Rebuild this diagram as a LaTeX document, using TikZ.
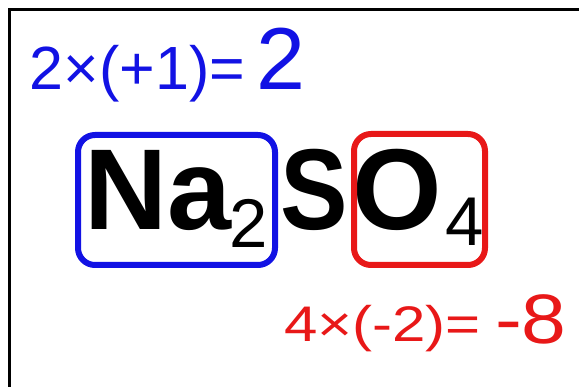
\documentclass[tikz,border=0pt]{standalone}
\usepackage{fontspec}
\setmainfont{Liberation Sans}
\usetikzlibrary{positioning}
\definecolor{chargeblue}{RGB}{18,18,228}
\definecolor{chargered}{RGB}{232,24,24}

\begin{document}
\begin{tikzpicture}[x=1pt, y=-1pt]
    \tikzstyle{txt}     = [anchor=base west, inner sep=0pt, outer sep=0pt]
    \tikzstyle{formula} = [txt, font=\fontsize{115}{115}\selectfont\bfseries]
    \tikzstyle{index}   = [txt, font=\fontsize{69}{69}\selectfont]
    \tikzstyle{ionbox}  = [draw, rounded corners=17pt, line width=6pt, inner sep=0pt]

    \useasboundingbox (0,0) rectangle (579,387);

    % Frame
    \draw [line width=3pt] (9.5,387) -- (9.5,10) -- (579,10);

    % Sodium charge
    \node [txt, text=chargeblue, font=\fontsize{61}{61}\selectfont] (eqna) at (30,90) {2×(+1)=};
    \node [txt, text=chargeblue, font=\fontsize{88}{88}\selectfont] (sumna) at (256.5,90) {2};

    % Main formula
    \node [formula] (na) at (84,230) {Na};
    \node [index] (nasub) at (229,248) {2};
    \node [formula, xscale=0.88] (s) at (280,230) {S};
    \node [formula] (o) at (352,230) {O};
    \node [index] (osub) at (445,246) {4};

    % Grouping boxes
    \node [ionbox, draw=chargeblue, minimum width=197pt, minimum height=130pt] (nabox) at (176.5,200) {};
    \node [ionbox, draw=chargered, minimum width=131pt, minimum height=131pt] (obox) at (419.5,199.5) {};

    % Sulfate charge
    \node [txt, text=chargered, font=\fontsize{50}{50}\selectfont, xscale=1.2] (eqo) at (284,342) {4×(-2)=};
    \node [txt, text=chargered, font=\fontsize{70}{70}\selectfont, xscale=1.15] (sumo) at (495,344) {-8};
\end{tikzpicture}
\end{document}
